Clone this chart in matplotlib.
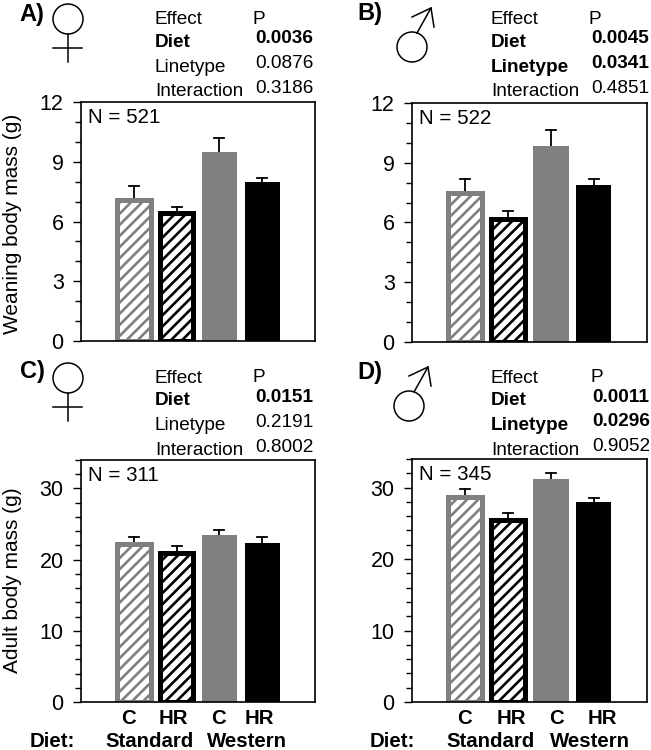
import matplotlib
matplotlib.use('Agg')
import matplotlib.pyplot as plt
from matplotlib.patches import Circle

plt.rcParams['font.family'] = ['Liberation Sans', 'DejaVu Sans']
plt.rcParams['hatch.linewidth'] = 1.9

W, H = 651, 750
GREY = '#808080'

positions = [0, 1, 2, 3]
group_labels = ['C', 'HR', 'C', 'HR']

weaning_f = [7.2, 6.5, 9.5, 8.0]
weaning_f_top = [7.8, 6.75, 10.2, 8.2]
weaning_m = [7.6, 6.25, 9.85, 7.9]
weaning_m_top = [8.2, 6.6, 10.65, 8.2]
adult_f = [22.5, 21.2, 23.4, 22.4]
adult_f_top = [23.2, 21.9, 24.2, 23.2]
adult_m = [28.9, 25.7, 31.2, 28.0]
adult_m_top = [29.8, 26.4, 32.0, 28.5]

effects = ['Effect', 'Diet', 'Linetype', 'Interaction']
p_a = ['P', '0.0036', '0.0876', '0.3186']
p_b = ['P', '0.0045', '0.0341', '0.4851']
p_c = ['P', '0.0151', '0.2191', '0.8002']
p_d = ['P', '0.0011', '0.0296', '0.9052']

fig = plt.figure(figsize=(W / 100, H / 100), dpi=100)
over = fig.add_axes([0, 0, 1, 1], zorder=5)
over.set_xlim(0, W)
over.set_ylim(H, 0)
over.axis('off')


def panel(left, right, top, bottom, vals, tops, ymax, major, minor):
    ax = fig.add_axes([left / W, 1 - bottom / H, (right - left) / W, (bottom - top) / H])
    styles = [('white', GREY, '///'), ('white', 'black', '///'), (GREY, GREY, None), ('black', 'black', None)]
    for x, v, t, (fc, ec, h) in zip(positions, vals, tops, styles):
        ax.plot([x, x], [v, t], color='black', lw=1.3, zorder=1)
        ax.plot([x - 0.12, x + 0.12], [t, t], color='black', lw=1.3, zorder=1)
        if h:
            ax.bar(x, v - ymax * 0.008, width=0.78, facecolor=fc, edgecolor=ec, hatch=h, linewidth=3.6, zorder=2)
        else:
            ax.bar(x, v, width=0.82, color=fc, zorder=2)
    ax.set_xlim(-1.24, 4.24)
    ax.set_ylim(0, ymax)
    ax.set_xticks([])
    ax.set_yticks(major)
    ax.set_yticks(minor, minor=True)
    ax.tick_params(axis='y', which='major', length=5.5, width=1, labelsize=15.5, pad=7)
    ax.tick_params(axis='y', which='minor', length=4, width=1)
    for s in ax.spines.values():
        s.set_linewidth(1.2)
    return ax


def stats(x_eff, x_p, y_eff, y_p, values, bold):
    for i, (e, v) in enumerate(zip(effects, values)):
        w = 'bold' if i in bold else 'normal'
        over.text(x_eff, y_eff[i], e, fontsize=13.7, fontweight=w, va='baseline', ha='left')
        over.text(x_p + (0 if i else -2), y_p[i], v, fontsize=13.7, fontweight=w, va='baseline', ha='left')


def female(cx, cy):
    over.add_patch(Circle((cx, cy), 15, fill=False, ec='black', lw=1.1))
    over.plot([cx, cx], [cy + 15, cy + 43], color='black', lw=1.1)
    over.plot([cx - 15, cx + 14], [cy + 29, cy + 29], color='black', lw=1.1)


def male(cx, cy):
    over.add_patch(Circle((cx, cy), 15, fill=False, ec='black', lw=1.1))
    over.plot([cx + 5, cx + 19], [cy - 14, cy - 39], color='black', lw=1.1)
    over.plot([cx, cx + 19, cx + 22], [cy - 30, cy - 39, cy - 20], color='black', lw=1.1)


ax_a = panel(81, 315, 102, 341, weaning_f, weaning_f_top, 12, [0, 3, 6, 9, 12], range(0, 13))
ax_b = panel(412, 647, 103, 342, weaning_m, weaning_m_top, 12, [0, 3, 6, 9, 12], range(0, 13))
ax_c = panel(81, 315, 460, 702, adult_f, adult_f_top, 34, [0, 10, 20, 30], range(0, 35, 2))
ax_d = panel(412, 647, 459, 702, adult_m, adult_m_top, 34, [0, 10, 20, 30], range(0, 35, 2))

ax_a.set_ylabel('Weaning body mass (g)', fontsize=15)
ax_c.set_ylabel('Adult body mass (g)', fontsize=15)
ax_a.yaxis.set_label_coords(-0.25, 0.49)
ax_c.yaxis.set_label_coords(-0.25, 0.505)

for ax, n in zip([ax_a, ax_b, ax_c, ax_d], [521, 522, 311, 345]):
    ax.text(0.03, 0.937, 'N = %d' % n, transform=ax.transAxes, fontsize=14.8, va='center', ha='left')

# bottom labels sit a little off the bar centres in the original
for xs, xd, xst, xw in [([128, 173, 218, 259], 30, 105, 207), ([465, 511, 557, 602], 370, 446, 550)]:
    for x, t in zip(xs, group_labels):
        over.text(x, 724, t, fontsize=14.7, fontweight='bold', va='baseline', ha='center')
    over.text(xd, 747, 'Diet:', fontsize=14.7, fontweight='bold', va='baseline')
    over.text(xst, 747, 'Standard', fontsize=14.7, fontweight='bold', va='baseline')
    over.text(xw, 747, 'Western', fontsize=14.7, fontweight='bold', va='baseline')

stats(155, 255, [24, 47, 71.5, 96], [23.5, 43, 68, 93], p_a, [1])
stats(491, 591, [24, 47, 72, 96], [23.5, 43, 68, 93], p_b, [1, 2])
stats(155, 255, [383, 405, 430, 455], [382, 402, 427, 452], p_c, [1])
stats(491, 592, [383, 405, 430, 455], [382, 402, 426, 451], p_d, [1, 2])

for x, y, t in [(19, 21, 'A)'), (357, 20, 'B)'), (20, 378, 'C)'), (357, 379, 'D)')]:
    over.text(x, y, t, fontsize=17, fontweight='bold', va='baseline')

female(68, 19)
female(68, 378)
male(412, 47)
male(409, 406)

fig.savefig('out.png', dpi=100)
